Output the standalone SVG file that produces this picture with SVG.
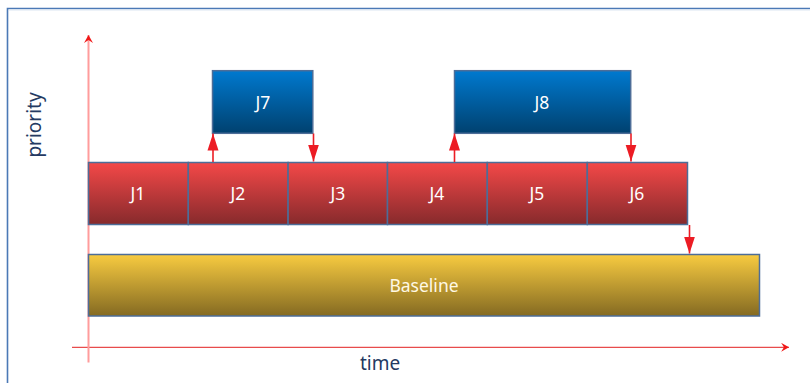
<svg xmlns="http://www.w3.org/2000/svg" width="810" height="383" viewBox="0 0 810 383">
  <defs>
    <linearGradient id="gRed" x1="0" y1="0" x2="0" y2="1">
      <stop offset="0" stop-color="#f44848"/>
      <stop offset="1" stop-color="#862a2c"/>
    </linearGradient>
    <linearGradient id="gBlue" x1="0" y1="0" x2="0" y2="1">
      <stop offset="0" stop-color="#0079cf"/>
      <stop offset="1" stop-color="#00416f"/>
    </linearGradient>
    <linearGradient id="gGold" x1="0" y1="0" x2="0" y2="1">
      <stop offset="0" stop-color="#f8cb40"/>
      <stop offset="1" stop-color="#846a22"/>
    </linearGradient>
    <marker id="tri" markerUnits="userSpaceOnUse" markerWidth="17" markerHeight="12" viewBox="0 0 17 12" refX="17" refY="6" orient="auto">
      <path d="M0,0.5 L17,6 L0,11.5 Z" fill="#ec1c24"/>
    </marker>
    <marker id="chev" markerUnits="userSpaceOnUse" markerWidth="9" markerHeight="9" viewBox="0 0 8 8" refX="7" refY="4" orient="auto">
      <path d="M0,0 L7,4 L0,8 L2.5,4 Z" fill="#f01818"/>
    </marker>
  </defs>
  <style>
    .job { stroke: #4d6d98; stroke-width: 1.5; }
    .lbl { font-family: "Noto Sans", "Open Sans", "Liberation Sans", sans-serif; font-size: 17.5px; fill: #ffffff; text-anchor: middle; }
    .axisLbl { font-family: "Noto Sans", "Open Sans", "Liberation Sans", sans-serif; font-size: 19px; fill: #243a62; text-anchor: middle; }
    .flow { stroke: #ec1c24; stroke-width: 1.6; fill: none; marker-end: url(#tri); }
  </style>

  <rect width="810" height="383" fill="#ffffff"/>
  <!-- outer frame -->
  <path d="M7.5,383 L7.5,8.5 L810,8.5" fill="none" stroke="#4b79b6" stroke-width="1.6"/>
  <line x1="9" y1="10" x2="810" y2="10" stroke="#dce6f2" stroke-width="1"/>

  <!-- axes -->
  <g id="axes">
    <line x1="72" y1="347.3" x2="789" y2="347.3" stroke="#e84c4c" stroke-width="1.3" marker-end="url(#chev)"/>
    <line x1="88.5" y1="362.5" x2="88.5" y2="35" stroke="#ff9c9c" stroke-width="2" marker-end="url(#chev)"/>
    <text class="axisLbl" x="380" y="370">time</text>
    <text class="axisLbl" transform="translate(41,125) rotate(-90)">priority</text>
  </g>

  <!-- baseline task -->
  <g id="baseline">
    <rect class="job" x="88.5" y="254.5" width="671" height="61.5" fill="url(#gGold)"/>
    <text class="lbl" x="424" y="292" style="fill:#fff8e4">Baseline</text>
  </g>

  <!-- regular jobs -->
  <g id="j1"><rect class="job" x="88.5" y="162.5" width="99.8" height="62" fill="url(#gRed)"/><text class="lbl" x="138" y="200">J1</text></g>
  <g id="j2"><rect class="job" x="188.3" y="162.5" width="99.8" height="62" fill="url(#gRed)"/><text class="lbl" x="238" y="200">J2</text></g>
  <g id="j3"><rect class="job" x="288.1" y="162.5" width="99.4" height="62" fill="url(#gRed)"/><text class="lbl" x="338" y="200">J3</text></g>
  <g id="j4"><rect class="job" x="387.5" y="162.5" width="99.8" height="62" fill="url(#gRed)"/><text class="lbl" x="437" y="200">J4</text></g>
  <g id="j5"><rect class="job" x="487.3" y="162.5" width="100" height="62" fill="url(#gRed)"/><text class="lbl" x="537" y="200">J5</text></g>
  <g id="j6"><rect class="job" x="587.3" y="162.5" width="100.2" height="62" fill="url(#gRed)"/><text class="lbl" x="637" y="200">J6</text></g>

  <!-- preempting jobs -->
  <g id="j7"><rect class="job" x="212.5" y="70.7" width="100.3" height="62.6" fill="url(#gBlue)"/><text class="lbl" x="263" y="108.5">J7</text></g>
  <g id="j8"><rect class="job" x="454.5" y="70.7" width="176.2" height="62.6" fill="url(#gBlue)"/><text class="lbl" x="542" y="108.5">J8</text></g>

  <!-- preemption / resume connectors -->
  <g id="connectors">
    <line class="flow" x1="213" y1="162" x2="213" y2="133.5"/>
    <line class="flow" x1="313.5" y1="133.5" x2="313.5" y2="161.5"/>
    <line class="flow" x1="454.5" y1="162" x2="454.5" y2="133.5"/>
    <line class="flow" x1="631" y1="133.5" x2="631" y2="161.5"/>
    <line class="flow" x1="689.5" y1="225" x2="689.5" y2="253.5"/>
  </g>
</svg>
